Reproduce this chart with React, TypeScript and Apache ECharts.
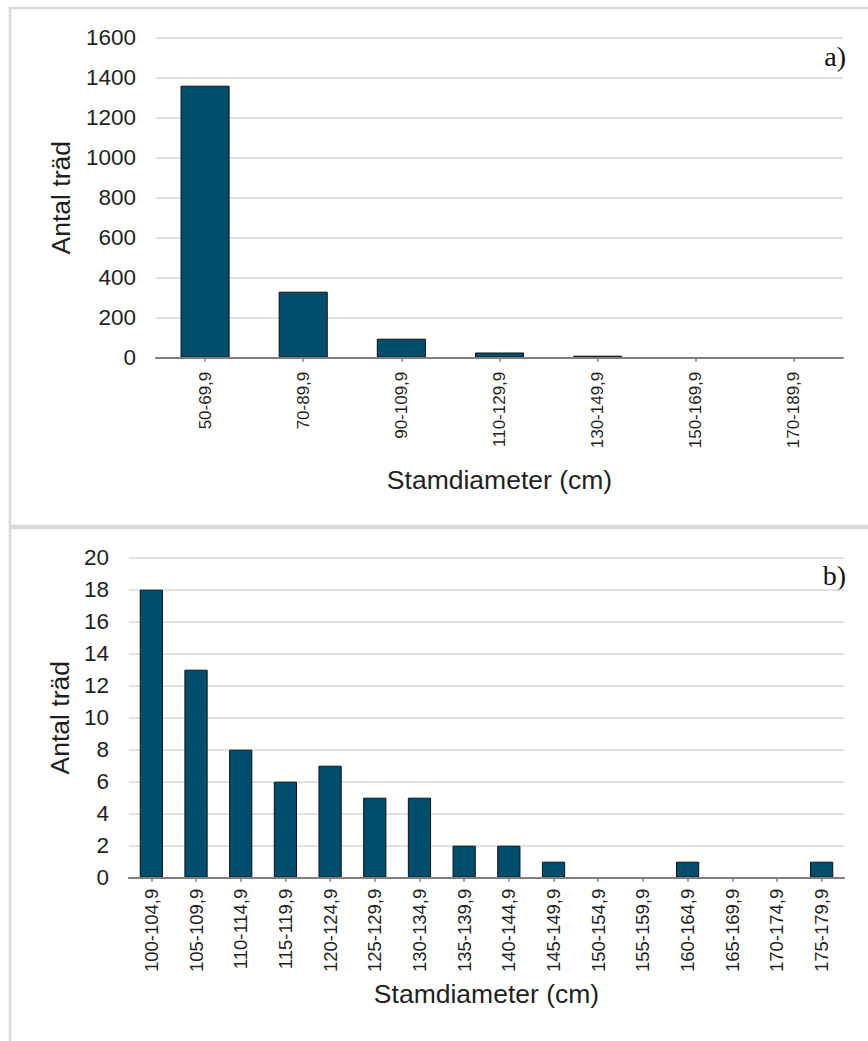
import React, { useEffect, useRef } from "react";
import * as echarts from "echarts";

const catsA = ["50-69,9", "70-89,9", "90-109,9", "110-129,9", "130-149,9", "150-169,9", "170-189,9"];
const valsA = [1360, 330, 95, 26, 10, 1, 1];

const catsB = [
  "100-104,9", "105-109,9", "110-114,9", "115-119,9", "120-124,9", "125-129,9", "130-134,9", "135-139,9",
  "140-144,9", "145-149,9", "150-154,9", "155-159,9", "160-164,9", "165-169,9", "170-174,9", "175-179,9",
];
const valsB = [18, 13, 8, 6, 7, 5, 5, 2, 2, 1, 0, 0, 1, 0, 0, 1];

const xName = "Stamdiameter (cm)";
const yName = "Antal träd";

const FONT = "'Liberation Sans', Arial, sans-serif";
const BAR = "#014d6e";
const TXT = "#1f1f1f";

function xAxis(idx: number, cats: string[], labelSize: number, labelMargin: number, nameGap: number) {
  return {
    type: "category",
    gridIndex: idx,
    data: cats,
    boundaryGap: true,
    z: 5,
    axisLine: { lineStyle: { color: "#7f7f7f", width: 2 } },
    axisTick: { show: true, alignWithLabel: true, interval: 0, length: 4, lineStyle: { color: "#7f7f7f", width: 1.5 } },
    axisLabel: { rotate: 90, interval: 0, fontSize: labelSize, color: TXT, fontFamily: FONT, margin: labelMargin },
    name: xName,
    nameLocation: "middle",
    nameGap,
    nameTextStyle: { fontSize: 26.5, color: TXT, fontFamily: FONT },
  };
}

function yAxis(idx: number, max: number, interval: number, nameGap: number) {
  return {
    type: "value",
    gridIndex: idx,
    min: 0,
    max,
    interval,
    axisLine: { show: false },
    axisTick: { show: false },
    axisLabel: { fontSize: 22.5, color: TXT, fontFamily: FONT, margin: 20, formatter: (v: number) => String(v) },
    splitLine: { lineStyle: { color: "#d9d9d9", width: 1.5 } },
    name: yName,
    nameLocation: "middle",
    nameRotate: 90,
    nameGap,
    nameTextStyle: { fontSize: 26.5, color: TXT, fontFamily: FONT },
  };
}

const barData = (vals: number[]) =>
  vals.map((v) => (v === 0 ? { value: v, itemStyle: { borderWidth: 0 } } : v));

export default function App() {
  const ref = useRef<HTMLDivElement>(null);
  useEffect(() => {
    if (!ref.current) return;
    const chart = echarts.init(ref.current, undefined, { renderer: "svg" });
    chart.setOption({
      animation: false,
      backgroundColor: "#ffffff",
      grid: [
        { left: 156, right: 25, top: 37.7, height: 320 },
        { left: 129, right: 24, top: 557.7, height: 320 },
      ],
      xAxis: [xAxis(0, catsA, 17, 14, 109), xAxis(1, catsB, 18.5, 11, 103)],
      yAxis: [yAxis(0, 1600, 200, 82), yAxis(1, 20, 2, 55)],
      series: [
        {
          type: "bar",
          xAxisIndex: 0,
          yAxisIndex: 0,
          data: barData(valsA),
          barWidth: "50%",
          itemStyle: { color: BAR, borderColor: "#111", borderWidth: 1 },
        },
        {
          type: "bar",
          xAxisIndex: 1,
          yAxisIndex: 1,
          data: barData(valsB),
          barWidth: "52%",
          itemStyle: { color: BAR, borderColor: "#111", borderWidth: 1 },
        },
      ],
      graphic: [
        { type: "rect", shape: { x: 10, y: 8, width: 900, height: 518 }, style: { fill: "none", stroke: "#d9d9d9", lineWidth: 2.5 }, z: -1 },
        { type: "rect", shape: { x: 10, y: 528, width: 900, height: 600 }, style: { fill: "none", stroke: "#d9d9d9", lineWidth: 2.5 }, z: -1 },
        { type: "text", right: 22, top: 42, style: { text: "a)", font: "28px 'Liberation Serif', 'DejaVu Serif', serif", fill: "#111" } },
        { type: "text", right: 22, top: 561, style: { text: "b)", font: "28px 'Liberation Serif', 'DejaVu Serif', serif", fill: "#111" } },
      ],
    });
    return () => chart.dispose();
  }, []);
  return <div ref={ref} style={{ position: "fixed", left: 0, top: 0, width: 868, height: 1041 }} />;
}
